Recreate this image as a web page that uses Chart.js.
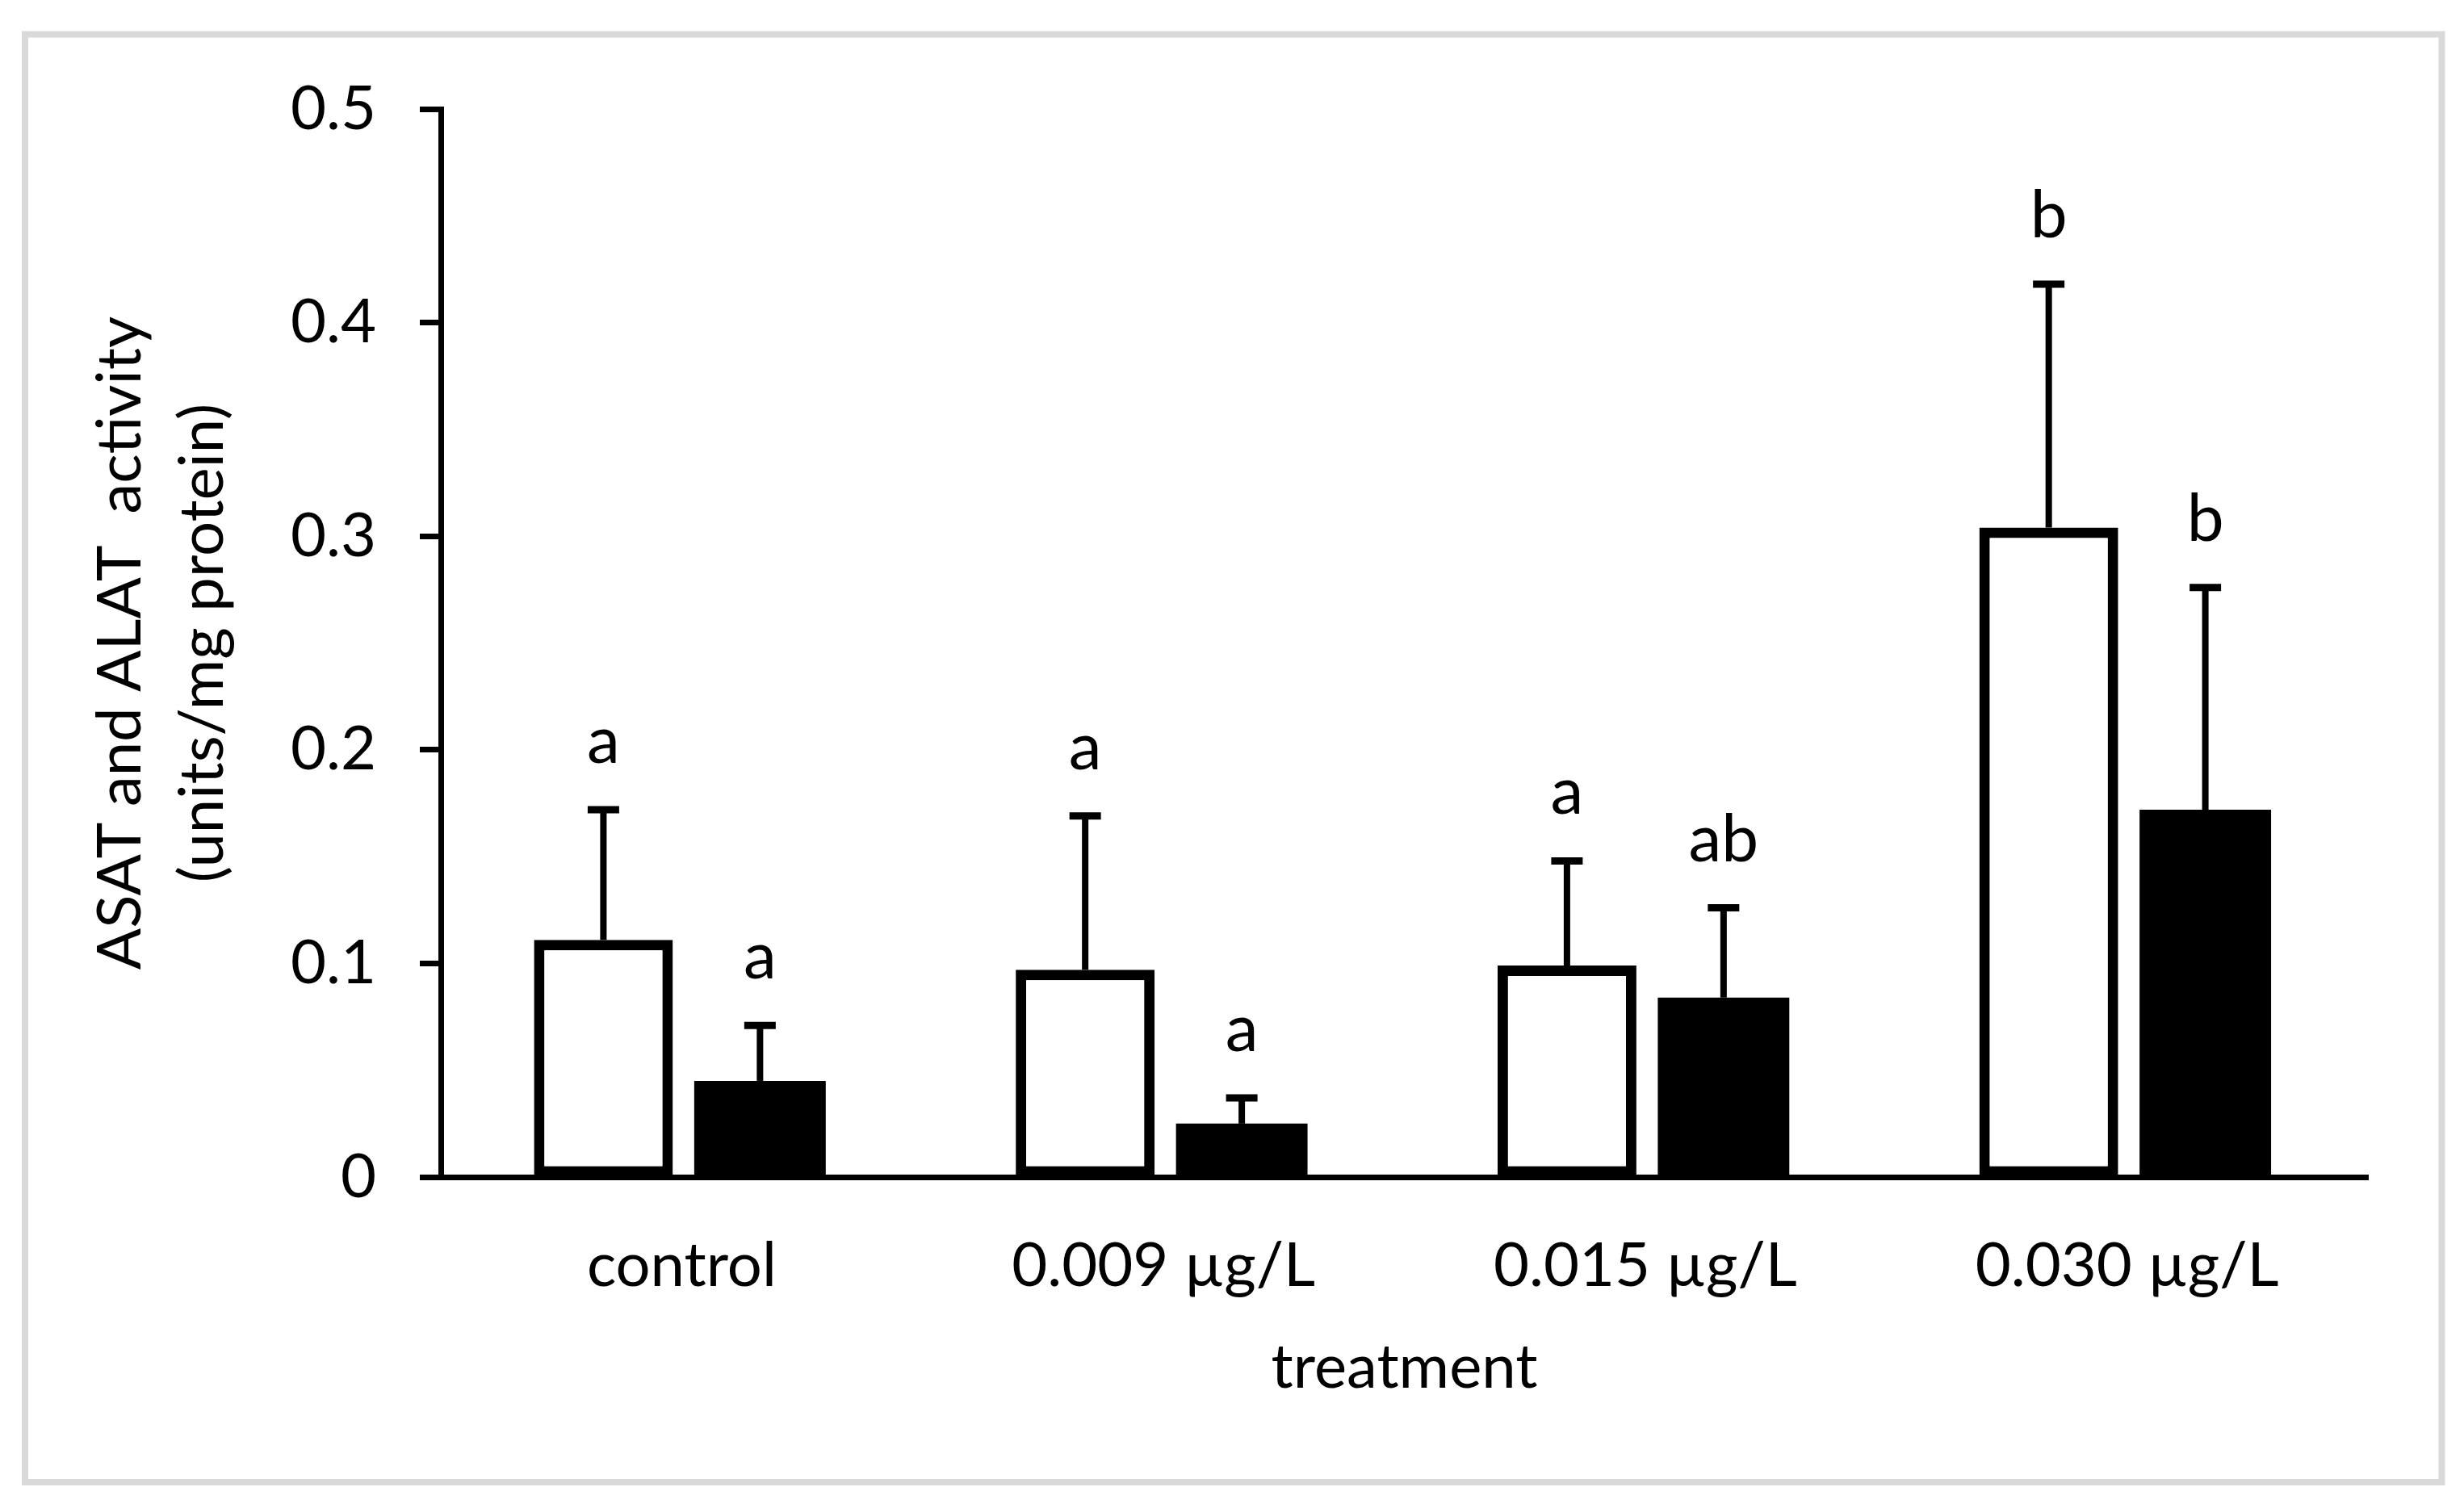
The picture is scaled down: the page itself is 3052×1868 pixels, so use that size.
<!DOCTYPE html>
<html>
<head>
<meta charset="utf-8">
<script src="https://cdn.jsdelivr.net/npm/chart.js@4"></script>
<style>
  html, body { margin: 0; padding: 0; background: #fff; }
  #c { display: block; }
</style>
</head>
<body>
<canvas id="c" width="3052" height="1868" style="width:3052px;height:1868px"></canvas>
<script>
// ---- data ----
const categories = ['control', '0.009 \u00b5g/L', '0.015 \u00b5g/L', '0.030 \u00b5g/L'];
const asatValues = [0.111, 0.097, 0.099, 0.304];   // white bars
const asatErrors = [0.061, 0.072, 0.049, 0.114];
const asatLetters = ['a', 'a', 'a', 'b'];
const alatValues = [0.045, 0.025, 0.084, 0.172];   // black bars
const alatErrors = [0.026, 0.012, 0.042, 0.104];
const alatLetters = ['a', 'a', 'ab', 'b'];
const yTickLabels = ['0', '0.1', '0.2', '0.3', '0.4', '0.5'];
const yTitle = ['ASAT and ALAT  activity', '(units/mg protein)'];
const xTitle = 'treatment';

const FONT = 'Lato';
const FS = 76;
const LETTER_FS = 82;

const frame = {
  id: 'frame',
  beforeDraw(chart) {
    const ctx = chart.ctx;
    ctx.save();
    ctx.fillStyle = '#fff';
    ctx.fillRect(0, 0, chart.width, chart.height);
    ctx.strokeStyle = '#d9d9d9';
    ctx.lineWidth = 8;
    ctx.strokeRect(31, 42.5, 3024.5 - 31, 1836 - 42.5);
    ctx.restore();
  }
};

const errorBars = {
  id: 'errorBars',
  afterDatasetsDraw(chart) {
    const ctx = chart.ctx;
    const y = chart.scales.y;
    const sets = [
      { errs: asatErrors, letters: asatLetters },
      { errs: alatErrors, letters: alatLetters }
    ];
    ctx.save();
    sets.forEach((s, di) => {
      const meta = chart.getDatasetMeta(di);
      const vals = chart.data.datasets[di].data;
      meta.data.forEach((bar, i) => {
        const x = bar.x;
        const yTop = y.getPixelForValue(vals[i]);
        const yCap = y.getPixelForValue(vals[i] + s.errs[i]);
        ctx.strokeStyle = '#000';
        ctx.lineWidth = 8;
        ctx.beginPath();
        ctx.moveTo(x, yTop);
        ctx.lineTo(x, yCap);
        ctx.stroke();
        ctx.lineWidth = 9;
        ctx.beginPath();
        ctx.moveTo(x - 19.5, yCap);
        ctx.lineTo(x + 19.5, yCap);
        ctx.stroke();
        ctx.fillStyle = '#000';
        ctx.font = LETTER_FS + 'px ' + FONT;
        ctx.textAlign = 'center';
        ctx.textBaseline = 'alphabetic';
        ctx.fillText(s.letters[i], x, yCap - 58);
      });
    });
    ctx.restore();
  }
};

function build() {
  new Chart(document.getElementById('c'), {
    type: 'bar',
    data: {
      labels: categories,
      datasets: [
        {
          label: 'ASAT',
          data: asatValues,
          backgroundColor: '#ffffff',
          borderColor: '#000000',
          borderWidth: 13,
          borderSkipped: false,
          barPercentage: 0.887,
          categoryPercentage: 0.65
        },
        {
          label: 'ALAT',
          data: alatValues,
          backgroundColor: '#000000',
          borderWidth: 0,
          barPercentage: 0.84,
          categoryPercentage: 0.65
        }
      ]
    },
    options: {
      responsive: false,
      devicePixelRatio: 1,
      animation: false,
      layout: { padding: { top: 135, right: 119, bottom: 0, left: 0 } },
      plugins: {
        legend: { display: false },
        tooltip: { enabled: false }
      },
      scales: {
        x: {
          grid: { display: false, drawTicks: false },
          border: { display: true, color: '#000', width: 7 },
          ticks: { font: { family: FONT, size: FS }, color: '#000', padding: 65 },
          title: {
            display: true, text: xTitle, color: '#000',
            font: { family: FONT, size: FS },
            padding: { top: 0, bottom: 128 }
          },
          afterFit(s) { s.height = 410; }
        },
        y: {
          min: 0, max: 0.5,
          ticks: {
            stepSize: 0.1,
            font: { family: FONT, size: FS }, color: '#000', padding: 54,
            callback: (v, i) => yTickLabels[i]
          },
          grid: {
            display: true, drawOnChartArea: false, drawTicks: true,
            tickLength: 26, tickWidth: 7, tickColor: '#000', color: '#000'
          },
          border: { display: true, color: '#000', width: 7 },
          title: {
            display: true, text: yTitle, color: '#000',
            font: { family: FONT, size: FS, lineHeight: 1.34 },
            padding: { top: 99, bottom: 0 }
          },
          afterFit(s) { s.width = 546; }
        }
      }
    },
    plugins: [frame, errorBars]
  });
}

if (document.fonts && document.fonts.load) {
  document.fonts.load(FS + 'px ' + FONT).then(build, build);
} else {
  build();
}
</script>
</body>
</html>
